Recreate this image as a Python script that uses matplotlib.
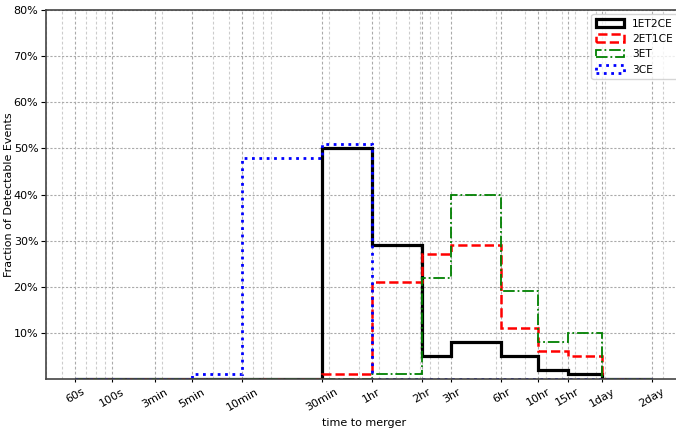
import matplotlib
matplotlib.use("Agg")
import matplotlib.pyplot as plt
import matplotlib.ticker as mticker

# bin edges in seconds (60s ... 2day)
edges = [60, 100, 180, 300, 600, 1800, 3600, 7200, 10800, 21600, 36000, 54000, 86400, 172800]
tick_labels = ['60s', '100s', '3min', '5min', '10min', '30min', '1hr', '2hr',
               '3hr', '6hr', '10hr', '15hr', '1day', '2day']

et1ce2 = [0, 0, 0, 0, 0, 0.50, 0.29, 0.05, 0.08, 0.05, 0.02, 0.01, 0]
et2ce1 = [0, 0, 0, 0, 0, 0.01, 0.21, 0.27, 0.29, 0.11, 0.06, 0.05, 0]
et3 = [0, 0, 0, 0, 0, 0, 0.01, 0.22, 0.40, 0.19, 0.08, 0.10, 0]
ce3 = [0, 0, 0, 0.01, 0.48, 0.51, 0, 0, 0, 0, 0, 0, 0]

plt.rcParams['font.size'] = 8

fig = plt.figure(figsize=(6.76, 4.28), dpi=100)
ax = fig.add_axes([0.068, 0.1145, 0.94, 0.862])

left = edges[:-1]
ax.hist(left, bins=edges, weights=et1ce2, histtype='step', color='black', lw=2.3, ls='-', label='1ET2CE')
ax.hist(left, bins=edges, weights=et2ce1, histtype='step', color='red', lw=1.8, ls='--', label='2ET1CE')
ax.hist(left, bins=edges, weights=et3, histtype='step', color='green', lw=1.3, ls='-.', label='3ET')
ax.hist(left, bins=edges, weights=ce3, histtype='step', color='blue', lw=2.0, ls=':', label='3CE')

ax.set_xscale('log')
ax.set_xlim(40, 259200)
ax.set_ylim(0, 0.8)
ax.set_xticks(edges)
ax.set_xticklabels(tick_labels, rotation=30)
ax.xaxis.set_minor_formatter(mticker.NullFormatter())
ax.tick_params(axis='x', which='minor', length=0)
ax.tick_params(axis='x', which='major', length=2)
ax.tick_params(axis='y', pad=2)
ax.set_yticks([0.1, 0.2, 0.3, 0.4, 0.5, 0.6, 0.7, 0.8])
ax.yaxis.set_major_formatter(mticker.FuncFormatter(lambda v, p: '%d%%' % round(v * 100)))

ax.grid(which='major', axis='y', ls=(0, (2, 1.5)), color='#aaaaaa', lw=0.8)
ax.grid(which='major', axis='x', ls=(0, (2.5, 2)), color='#aaaaaa', lw=0.8)
ax.grid(which='minor', axis='x', ls=(0, (2.5, 2)), color='#cccccc', lw=0.8)
ax.set_axisbelow(True)

for s in ax.spines.values():
    s.set_color('#444444')
    s.set_linewidth(1.2)

ax.set_xlabel('time to merger')
ax.set_ylabel('Fraction of Detectable Events', fontsize=8)
ax.yaxis.set_label_coords(-0.05, 0.5)
ax.legend(loc='upper right', fontsize=7.7, handlelength=2.6, borderaxespad=0.4)

fig.savefig('out.png', dpi=100)
